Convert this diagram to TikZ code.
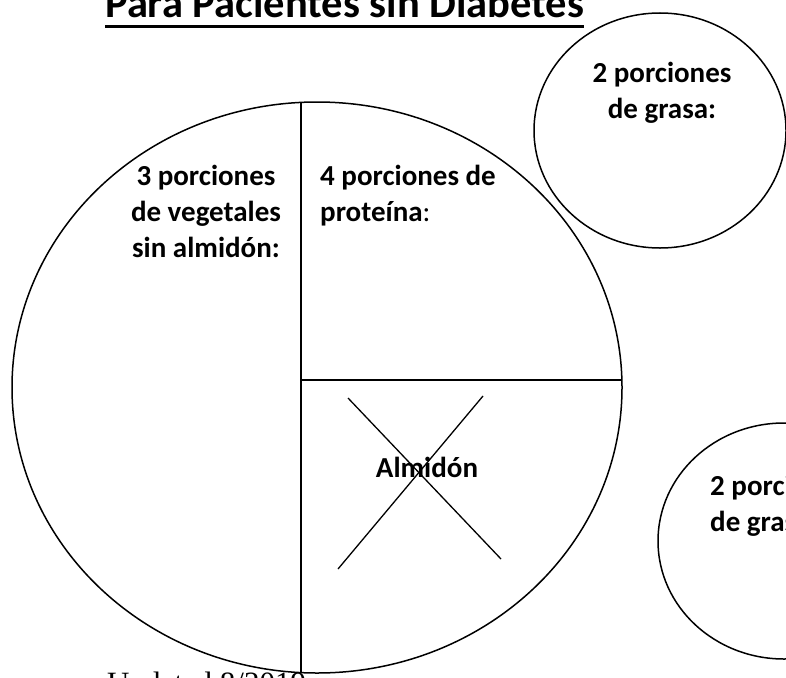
\documentclass[tikz,border=0pt]{standalone}
\usepackage{fontspec}
\setmainfont{Carlito}
\newfontfamily\serifnote{Liberation Serif}
\usetikzlibrary{positioning}
\tikzset{
    outline/.style={line width=1.5pt}, % plate and side dishes
    cutline/.style={line width=1.3pt}, % crossed out starch
    label/.style={font=\fontsize{29}{36}\selectfont\bfseries, inner sep=0pt, align=center},
}
\begin{document}
\begin{tikzpicture}[x=1pt, y=-1pt]
    \clip (0,0) rectangle (786,677);

    % title
    \node[font=\fontsize{42.5}{50}\selectfont\bfseries, inner sep=0pt, anchor=base west] (title) at (105,18) {Para Pacientes sin Diabetes};
    \draw[line width=3pt] ([yshift=-9pt]title.base west) -- ([yshift=-9pt]title.base east);

    % plate
    \draw[outline] (317,387.5) ellipse [x radius=305, y radius=285.5];
    \draw[outline] (301,102.5) -- (301,673);
    \draw[outline] (301,380) -- (622,380);

    % side dishes
    \draw[outline] (660,130.5) ellipse [x radius=126, y radius=117.5];
    \draw[outline] (784,541) ellipse [x radius=126, y radius=118];

    % base anchor sits on the last line
    \node[label, anchor=base] (veg) at (206,257) {3 porciones\\de vegetales\\sin almid\'on:};
    \node[label, anchor=base west, align=left] (prot) at (320,221) {4 porciones de\\prote\'ina{\mdseries:}};
    \node[label, anchor=base] (starch) at (427,477) {Almid\'on};
    \node[label, anchor=base] (fat1) at (662,118) {2 porciones\\de grasa:};
    \node[label, anchor=base west, align=left] (fat2) at (710,531) {2 porciones\\de grasa:};

    % starch crossed out
    \draw[cutline] (348,398) -- (501,559);
    \draw[cutline] (483,396) -- (338,569);

    \node[font=\serifnote\fontsize{31}{36}\selectfont, inner sep=0pt, anchor=base west] (date) at (107,693) {Updated 8/2019};
\end{tikzpicture}
\end{document}
